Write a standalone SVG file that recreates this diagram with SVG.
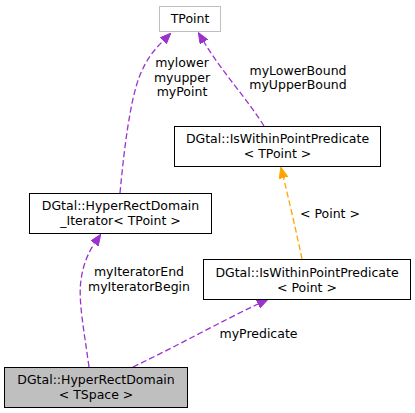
<svg xmlns="http://www.w3.org/2000/svg" width="415" height="413" viewBox="0 0 415 413">
<style>
text{font-family:"DejaVu Sans",sans-serif;font-size:12.5px;fill:#000;text-anchor:middle}
.box{fill:#fff;stroke:#000;stroke-width:1}
.gbox{fill:#fff;stroke:#bfbfbf;stroke-width:1}
.cur{fill:#bfbfbf;stroke:#000;stroke-width:1}
.e{fill:none;stroke:#9a32cd;stroke-width:1.3;stroke-dasharray:6,3}
.o{fill:none;stroke:#ffa500;stroke-width:1.3;stroke-dasharray:6,3}
</style>
<defs>
<marker id="ap" viewBox="0 0 11 9" refX="0" refY="4.5" markerWidth="11" markerHeight="9" markerUnits="userSpaceOnUse" orient="auto"><path d="M0,0L11,4.5L0,9z" fill="#9a32cd" stroke="#9a32cd"/></marker>
<marker id="ao" viewBox="0 0 11 9" refX="0" refY="4.5" markerWidth="11" markerHeight="9" markerUnits="userSpaceOnUse" orient="auto"><path d="M0,0L11,4.5L0,9z" fill="#ffa500" stroke="#ffa500"/></marker>
</defs>
<g id="connectors">
<path class="e" d="M120,193 C124,150 130,100 140,75 C147,58 155,49 163,41" marker-end="url(#ap)"/>
<path class="e" d="M264,126 C248,100 222,72 204,42" marker-end="url(#ap)"/>
<path class="o" d="M302,259 C297,235 289,200 283.5,178" marker-end="url(#ao)"/>
<path class="e" d="M89,367 C84,330 78,300 81,280 C83,265 88,253 94.5,243.5" marker-end="url(#ap)"/>
<path class="e" d="M133,367 C175,347 220,322 258,304" marker-end="url(#ap)"/>
<text x="182" y="67">mylower</text>
<text x="182" y="81.5">myupper</text>
<text x="182" y="96">myPoint</text>
<text x="298" y="75">myLowerBound</text>
<text x="298" y="89">myUpperBound</text>
<text x="330" y="217.5">&lt; Point &gt;</text>
<text x="139" y="276">myIteratorEnd</text>
<text x="139" y="290.5">myIteratorBegin</text>
<text x="258.5" y="337.5">myPredicate</text>
</g>
<g id="TPoint">
<rect class="gbox" x="159.5" y="6.5" width="61" height="25"/>
<text x="190" y="22.5">TPoint</text>
</g>
<g id="IsWithinPointPredicate_TPoint">
<rect class="box" x="174.5" y="126.5" width="206" height="40"/>
<text x="277.5" y="143">DGtal::IsWithinPointPredicate</text>
<text x="277.5" y="158">&lt; TPoint &gt;</text>
</g>
<g id="HyperRectDomain_Iterator">
<rect class="box" x="29.5" y="193.5" width="182" height="40"/>
<text x="120.5" y="210">DGtal::HyperRectDomain</text>
<text x="120.5" y="225">_Iterator&lt; TPoint &gt;</text>
</g>
<g id="IsWithinPointPredicate_Point">
<rect class="box" x="203.5" y="259.5" width="207" height="40"/>
<text x="307" y="276.5">DGtal::IsWithinPointPredicate</text>
<text x="307" y="291.5">&lt; Point &gt;</text>
</g>
<g id="HyperRectDomain">
<rect class="cur" x="4.5" y="367.5" width="183" height="40"/>
<text x="96" y="383.5">DGtal::HyperRectDomain</text>
<text x="96" y="398.5">&lt; TSpace &gt;</text>
</g>
</svg>
